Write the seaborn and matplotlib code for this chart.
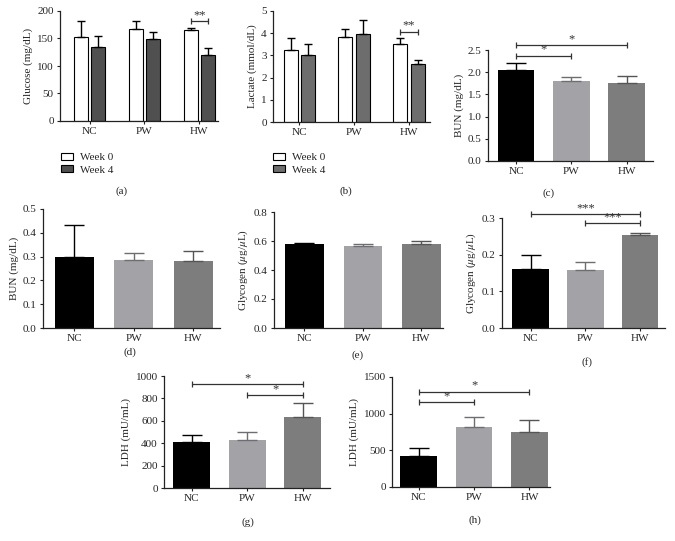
import pandas as pd
import matplotlib
matplotlib.use('Agg')
import matplotlib.pyplot as plt
from matplotlib.patches import Patch
import seaborn as sns

sns.set_style('ticks')
plt.rcParams['font.family'] = ['Liberation Serif', 'DejaVu Serif']
plt.rcParams['mathtext.fontset'] = 'stix'
plt.rcParams['axes.unicode_minus'] = False

groups = ['NC', 'PW', 'HW']
weeks = ['Week 0', 'Week 4']

# (a) glucose, (b) lactate: week 0 / week 4
glucose_w0 = [152, 168, 165]
glucose_w0_err = [30, 13, 4]
glucose_w4 = [134, 149, 120]
glucose_w4_err = [21, 13, 13]

lactate_w0 = [3.23, 3.85, 3.51]
lactate_w0_err = [0.57, 0.32, 0.29]
lactate_w4 = [3.02, 3.96, 2.60]
lactate_w4_err = [0.48, 0.62, 0.18]

# (c)-(h) single series
bun_c = [2.05, 1.80, 1.76]
bun_c_err = [0.15, 0.10, 0.15]
bun_d = [0.298, 0.287, 0.280]
bun_d_err = [0.136, 0.029, 0.043]
glycogen_e = [0.581, 0.563, 0.579]
glycogen_e_err = [0.005, 0.013, 0.022]
glycogen_f = [0.160, 0.158, 0.255]
glycogen_f_err = [0.038, 0.023, 0.003]
ldh_g = [413, 429, 631]
ldh_g_err = [63, 71, 125]
ldh_h = [427, 823, 755]
ldh_h_err = [109, 132, 155]

# significance brackets: (from bar, to bar, height, label)
sig_a = [(4, 5, 182, '**')]
sig_b = [(4, 5, 4.07, '**')]
sig_c = [(0, 2, 2.61, '*'), (0, 1, 2.37, '*')]
sig_f = [(0, 2, 0.31, '***'), (1, 2, 0.286, '***')]
sig_g = [(0, 2, 929, '*'), (1, 2, 830, '*')]
sig_h = [(0, 2, 1300, '*'), (0, 1, 1155, '*')]

bar_colors = ['#000000', '#a3a3a7', '#7d7d7d']
err_colors = ['#000000', '#6e6e70', '#555555']

W, H = 675, 541
fig = plt.figure(figsize=(W / 100, H / 100), dpi=100)


def make_axes(l, t, r, b):
    return fig.add_axes([l / W, 1 - b / H, (r - l) / W, (b - t) / H])


def style(ax, ylabel, yticks, xlim, ticklabels=None):
    ax.set_xlim(*xlim)
    ax.set_ylim(yticks[0], yticks[-1])
    ax.set_yticks(yticks)
    if ticklabels is not None:
        ax.set_yticklabels(ticklabels)
    ax.set_xlabel('')
    ax.set_ylabel(ylabel, fontsize=8, labelpad=3)
    sns.despine(ax=ax)
    for s in ['left', 'bottom']:
        ax.spines[s].set_linewidth(0.9)
        ax.spines[s].set_color('#222222')
    ax.tick_params(length=2.5, width=0.8, labelsize=8, pad=2, color='#222222')


def centers(ax):
    ps = sorted(ax.patches, key=lambda p: p.get_x())
    return [(p.get_x() + p.get_width() / 2, p.get_height()) for p in ps]


def add_errors(ax, errs, colors, capsize):
    for (x, h), e, c in zip(centers(ax), errs, colors):
        ax.errorbar(x, h, yerr=[[0], [e]], fmt='none', ecolor=c,
                    elinewidth=1, capsize=capsize, capthick=1, zorder=3)


def add_brackets(ax, sigs):
    pos = centers(ax)
    for i, j, y, lab in sigs:
        x1, x2 = pos[i][0], pos[j][0]
        ax.plot([x1, x2], [y, y], color='#333333', lw=0.9, marker='|',
                markersize=5, markeredgewidth=0.9, clip_on=False)
        ax.annotate(lab, ((x1 + x2) / 2, y), xytext=(0, 0),
                    textcoords='offset points', ha='center', va='bottom',
                    fontsize=9, color='#333333', annotation_clip=False)


def paired_panel(box, w0, w0e, w4, w4e, dark, ylabel, yticks, xlim, sigs, leg_xy):
    ax = make_axes(*box)
    df = pd.DataFrame({'group': groups * 2,
                       'week': [weeks[0]] * 3 + [weeks[1]] * 3,
                       'value': w0 + w4})
    sns.barplot(data=df, x='group', y='value', hue='week', order=groups,
                hue_order=weeks, palette=['white', dark], width=0.64, gap=0.2,
                edgecolor='black', linewidth=0.8, saturation=1,
                errorbar=None, legend=False, ax=ax)
    errs = [v for pair in zip(w0e, w4e) for v in pair]
    add_errors(ax, errs, ['black'] * 6, 2.7)
    add_brackets(ax, sigs)
    style(ax, ylabel, yticks, xlim)
    handles = [Patch(facecolor='white', edgecolor='black', lw=0.8),
               Patch(facecolor=dark, edgecolor='black', lw=0.8)]
    ax.legend(handles, weeks, loc='upper left', frameon=False, fontsize=8,
              bbox_to_anchor=(leg_xy[0] / W, 1 - leg_xy[1] / H),
              bbox_transform=fig.transFigure, borderpad=0, borderaxespad=0,
              handlelength=1.1, handleheight=0.6, handletextpad=0.6,
              labelspacing=0.25)
    return ax


def single_panel(box, values, errs, ylabel, yticks, xlim, sigs, ticklabels=None):
    ax = make_axes(*box)
    df = pd.DataFrame({'group': groups, 'value': values})
    sns.barplot(data=df, x='group', y='value', hue='group', order=groups,
                hue_order=groups, palette=bar_colors, width=0.66,
                linewidth=0, saturation=1, errorbar=None, legend=False, ax=ax)
    add_errors(ax, errs, err_colors, 7.5)
    add_brackets(ax, sigs)
    style(ax, ylabel, yticks, xlim, ticklabels)
    return ax


paired_panel((60, 11, 218, 121), glucose_w0, glucose_w0_err, glucose_w4,
             glucose_w4_err, '#505050', 'Glucose (mg/dL)', [0, 50, 100, 150, 200],
             (-0.54, 2.34), sig_a, (61, 153))
paired_panel((273, 11, 430, 122), lactate_w0, lactate_w0_err, lactate_w4,
             lactate_w4_err, '#6d6d6d', 'Lactate (mmol/dL)', [0, 1, 2, 3, 4, 5],
             (-0.48, 2.38), sig_b, (273, 153))

single_panel((488, 50, 653, 161), bun_c, bun_c_err, 'BUN (mg/dL)',
             [0, 0.5, 1.0, 1.5, 2.0, 2.5], (-0.51, 2.48), sig_c,
             ['0.0', '0.5', '1.0', '1.5', '2.0', '2.5'])
single_panel((43, 209, 220, 328), bun_d, bun_d_err, 'BUN (mg/dL)',
             [0, 0.1, 0.2, 0.3, 0.4, 0.5], (-0.53, 2.45), [],
             ['0.0', '0.1', '0.2', '0.3', '0.4', '0.5'])
single_panel((274, 212, 443, 328), glycogen_e, glycogen_e_err,
             r'Glycogen ($\mu$g/$\mu$L)', [0, 0.2, 0.4, 0.6, 0.8],
             (-0.52, 2.37), [], ['0.0', '0.2', '0.4', '0.6', '0.8'])
single_panel((502, 218, 665, 328), glycogen_f, glycogen_f_err,
             r'Glycogen ($\mu$g/$\mu$L)', [0, 0.1, 0.2, 0.3],
             (-0.52, 2.45), sig_f, ['0.0', '0.1', '0.2', '0.3'])
single_panel((164, 376, 330, 488), ldh_g, ldh_g_err, 'LDH (mU/mL)',
             [0, 200, 400, 600, 800, 1000], (-0.5, 2.49), sig_g)
single_panel((392, 377, 550, 487), ldh_h, ldh_h_err, 'LDH (mU/mL)',
             [0, 500, 1000, 1500], (-0.48, 2.37), sig_h)

panel_tags = ['(a)', '(b)', '(c)', '(d)', '(e)', '(f)', '(g)', '(h)']
tag_xy = [(122, 191), (346, 191), (549, 193), (130, 352),
          (358, 355), (587, 362), (248, 522), (475, 520)]
for tag, (x, y) in zip(panel_tags, tag_xy):
    fig.text(x / W, 1 - y / H, tag, ha='center', va='center', fontsize=8)

fig.savefig('out.png', dpi=100)
